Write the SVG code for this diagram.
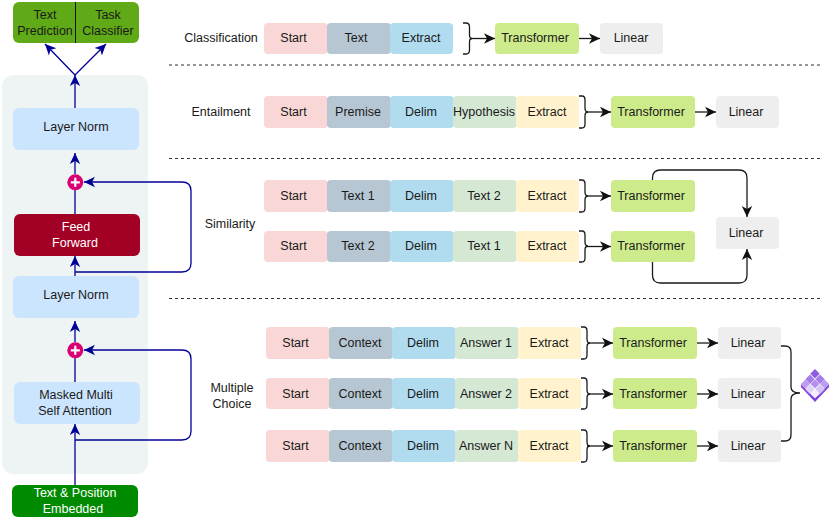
<svg xmlns="http://www.w3.org/2000/svg" width="831" height="520" viewBox="0 0 831 520">
<style>
text{font-family:"Liberation Sans",Arial,sans-serif;font-size:12.5px;fill:#1a1a1a;text-anchor:middle}
.w{fill:#fff}
rect{stroke:none}
.start{fill:#f8d7d6}.tok{fill:#b6c7d3}.delim{fill:#b1dcf0}.hyp{fill:#d5e8d4}.ext{fill:#fff2cc}.tf{fill:#cdeb8b}.lin{fill:#eeeeee}.ln{fill:#cce5ff}
.b{fill:none;stroke:#000099;stroke-width:1.3}
.k{fill:none;stroke:#1a1a1a;stroke-width:1.3}
.dash{fill:none;stroke:#333;stroke-width:1.2;stroke-dasharray:3 3}
</style>
<defs>
<marker id="ab" markerUnits="userSpaceOnUse" markerWidth="13" markerHeight="13" refX="11" refY="6" orient="auto"><path d="M11,6L0,0.800L3,6L0,11.200Z" fill="#000099"/></marker>
<marker id="ak" markerUnits="userSpaceOnUse" markerWidth="13" markerHeight="13" refX="11" refY="6" orient="auto"><path d="M11,6L0,0.800L3,6L0,11.200Z" fill="#111"/></marker>
</defs>
<rect id="panel" x="2" y="75" width="146" height="399" rx="11" fill="#eef4f3"/>
<g id="dividers">
<path class="dash" d="M169,65H821"/><path class="dash" d="M169,158.500H821"/><path class="dash" d="M169,298.500H821"/>
</g>
<g id="connectors">
<path class="b" marker-end="url(#ab)" d="M75,108V75"/>
<path class="b" marker-end="url(#ab)" d="M75,75L45,44"/>
<path class="b" marker-end="url(#ab)" d="M75,75L106,44"/>
<path class="b" d="M75,214V190"/>
<path class="b" marker-end="url(#ab)" d="M75,174V153"/>
<path class="b" marker-end="url(#ab)" d="M75,276V256"/>
<path class="b" marker-end="url(#ab)" d="M75,272H182Q191,272 191,263V191Q191,182 182,182H84"/>
<path class="b" d="M75,382V358"/>
<path class="b" marker-end="url(#ab)" d="M75,342V321"/>
<path class="b" marker-end="url(#ab)" d="M75,485V424"/>
<path class="b" marker-end="url(#ab)" d="M75,440H182Q191,440 191,431V359Q191,350 182,350H84"/>
<path class="k" d="M463,23H466Q469.500,23 469.500,27V35Q469.500,38.500 472,38.500Q469.500,38.500 469.500,42V50Q469.500,54 466,54H463"/>
<path class="k" marker-end="url(#ak)" d="M470,38.500H495"/>
<path class="k" marker-end="url(#ak)" d="M579,38.500H600"/>
<path class="k" d="M579,96H582Q585,96 585,100V108Q585,112 588,112Q585,112 585,116V124Q585,128 582,128H579"/>
<path class="k" marker-end="url(#ak)" d="M586,112H611"/>
<path class="k" marker-end="url(#ak)" d="M695,112H716"/>
<path class="k" d="M579,180H582Q585,180 585,184V192Q585,196 588,196Q585,196 585,200V208Q585,212 582,212H579"/>
<path class="k" marker-end="url(#ak)" d="M586,196H611"/>
<path class="k" d="M579,231H582Q585,231 585,235V242Q585,246 588,246Q585,246 585,250V258Q585,262 582,262H579"/>
<path class="k" marker-end="url(#ak)" d="M586,246.500H611"/>
<path class="k" marker-end="url(#ak)" d="M652.500,180V178Q652.500,170 660.500,170H739Q747,170 747,178V217"/>
<path class="k" marker-end="url(#ak)" d="M652.500,262V275Q652.500,283 660.500,283H739Q747,283 747,275V249"/>
<path class="k" d="M581,327H584Q587,327 587,331V339Q587,343 590,343Q587,343 587,347V355Q587,359 584,359H581"/>
<path class="k" marker-end="url(#ak)" d="M588,343H613"/>
<path class="k" marker-end="url(#ak)" d="M697,343H718"/>
<path class="k" d="M581,378H584Q587,378 587,382V390Q587,394 590,394Q587,394 587,398V405Q587,409 584,409H581"/>
<path class="k" marker-end="url(#ak)" d="M588,394H613"/>
<path class="k" marker-end="url(#ak)" d="M697,394H718"/>
<path class="k" d="M581,430H584Q587,430 587,434V442Q587,446 590,446Q587,446 587,450V458Q587,462 584,462H581"/>
<path class="k" marker-end="url(#ak)" d="M587,446H613"/>
<path class="k" marker-end="url(#ak)" d="M697,446H718"/>
<path class="k" d="M781,346H785Q791,346 791,352V387Q791,393 800,393Q791,393 791,399V435Q791,441 785,441H781"/>
</g>
<g id="output"><rect x="13" y="2" width="126" height="41" rx="6" fill="#60a917"/><path d="M75.500,2V43" stroke="#111" stroke-width="1"/><text x="45" y="19">Text</text><text x="45" y="35">Prediction</text><text x="108" y="19">Task</text><text x="108" y="35">Classifier</text></g>
<g id="norm2"><rect class="ln" x="13" y="108" width="126" height="42" rx="6"/><text x="76" y="131">Layer Norm</text></g>
<g id="add2"><circle cx="75.300" cy="182.300" r="8" fill="#d80073"/><path d="M70.800,182.300H79.800M75.300,177.800V186.800" stroke="#fff" stroke-width="2.200"/></g>
<g id="feed"><rect x="14" y="214" width="126" height="42" rx="6" fill="#a20025"/><text class="w" x="76" y="231">Feed</text><text class="w" x="75" y="247">Forward</text></g>
<g id="norm1"><rect class="ln" x="13" y="276" width="126" height="42" rx="6"/><text x="76" y="299">Layer Norm</text></g>
<g id="add1"><circle cx="75.300" cy="350.300" r="8" fill="#d80073"/><path d="M70.800,350.300H79.800M75.300,345.800V354.800" stroke="#fff" stroke-width="2.200"/></g>
<g id="attention"><rect class="ln" x="14" y="382" width="126" height="42" rx="6"/><text x="76" y="399">Masked Multi</text><text x="75" y="415">Self Attention</text></g>
<g id="embedded"><rect x="12" y="485" width="126" height="32" rx="6" fill="#008a00"/><text class="w" x="75" y="497">Text &amp; Position</text><text class="w" x="73" y="513">Embedded</text></g>
<g id="label-classification"><text x="221" y="42">Classification</text></g>
<g id="label-entailment"><text x="221" y="115.500">Entailment</text></g>
<g id="label-similarity"><text x="230" y="228">Similarity</text></g>
<g id="label-multiple"><text x="232" y="392">Multiple</text><text x="232" y="408">Choice</text></g>

<g id="c-start"><rect class="start" x="264" y="23" width="64" height="31" rx="4"/><text x="293.500" y="42">Start</text></g>
<g id="c-text"><rect class="tok" x="327" y="23" width="64" height="31" rx="4"/><text x="356" y="42">Text</text></g>
<g id="c-extract"><rect class="delim" x="390" y="23" width="63" height="31" rx="4"/><text x="421" y="42">Extract</text></g>
<g id="c-tf"><rect class="tf" x="495" y="23" width="84" height="31" rx="4"/><text x="535" y="42">Transformer</text></g>
<g id="c-lin"><rect class="lin" x="600" y="23" width="63" height="31" rx="4"/><text x="631" y="42">Linear</text></g>

<g id="e-start"><rect class="start" x="264" y="96" width="64" height="32" rx="4"/><text x="293.500" y="115.500">Start</text></g>
<g id="e-premise"><rect class="tok" x="327" y="96" width="64" height="32" rx="4"/><text x="358" y="115.500">Premise</text></g>
<g id="e-delim"><rect class="delim" x="390" y="96" width="64" height="32" rx="4"/><text x="421" y="115.500">Delim</text></g>
<g id="e-hyp"><rect class="hyp" x="453" y="96" width="64" height="32" rx="4"/><text x="484" y="115.500">Hypothesis</text></g>
<g id="e-extract"><rect class="ext" x="516" y="96" width="63" height="32" rx="4"/><text x="547" y="115.500">Extract</text></g>
<g id="e-tf"><rect class="tf" x="611" y="96" width="84" height="32" rx="4"/><text x="651" y="115.500">Transformer</text></g>
<g id="e-lin"><rect class="lin" x="716" y="96" width="63" height="32" rx="4"/><text x="746" y="115.500">Linear</text></g>

<g id="s1-start"><rect class="start" x="264" y="180" width="64" height="32" rx="4"/><text x="293.500" y="199.500">Start</text></g>
<g id="s1-a"><rect class="tok" x="327" y="180" width="64" height="32" rx="4"/><text x="358" y="199.500">Text 1</text></g>
<g id="s1-delim"><rect class="delim" x="390" y="180" width="64" height="32" rx="4"/><text x="421" y="199.500">Delim</text></g>
<g id="s1-b"><rect class="hyp" x="453" y="180" width="64" height="32" rx="4"/><text x="484" y="199.500">Text 2</text></g>
<g id="s1-extract"><rect class="ext" x="516" y="180" width="63" height="32" rx="4"/><text x="547" y="199.500">Extract</text></g>
<g id="s1-tf"><rect class="tf" x="611" y="180" width="84" height="32" rx="4"/><text x="651" y="199.500">Transformer</text></g>
<g id="s2-start"><rect class="start" x="264" y="231" width="64" height="31" rx="4"/><text x="293.500" y="250">Start</text></g>
<g id="s2-a"><rect class="tok" x="327" y="231" width="64" height="31" rx="4"/><text x="358" y="250">Text 2</text></g>
<g id="s2-delim"><rect class="delim" x="390" y="231" width="64" height="31" rx="4"/><text x="421" y="250">Delim</text></g>
<g id="s2-b"><rect class="hyp" x="453" y="231" width="64" height="31" rx="4"/><text x="484" y="250">Text 1</text></g>
<g id="s2-extract"><rect class="ext" x="516" y="231" width="63" height="31" rx="4"/><text x="547" y="250">Extract</text></g>
<g id="s2-tf"><rect class="tf" x="611" y="231" width="84" height="31" rx="4"/><text x="651" y="250">Transformer</text></g>
<g id="s-lin"><rect class="lin" x="716" y="217" width="63" height="32" rx="4"/><text x="746" y="236.500">Linear</text></g>

<g id="m1-start"><rect class="start" x="266" y="327" width="64" height="32" rx="4"/><text x="295.500" y="347">Start</text></g>
<g id="m1-ctx"><rect class="tok" x="329" y="327" width="64" height="32" rx="4"/><text x="360" y="347">Context</text></g>
<g id="m1-delim"><rect class="delim" x="392" y="327" width="64" height="32" rx="4"/><text x="423" y="347">Delim</text></g>
<g id="m1-ans"><rect class="hyp" x="455" y="327" width="64" height="32" rx="4"/><text x="486" y="347">Answer 1</text></g>
<g id="m1-extract"><rect class="ext" x="518" y="327" width="63" height="32" rx="4"/><text x="549" y="347">Extract</text></g>
<g id="m1-tf"><rect class="tf" x="613" y="327" width="84" height="32" rx="4"/><text x="653" y="347">Transformer</text></g>
<g id="m1-lin"><rect class="lin" x="718" y="327" width="63" height="32" rx="4"/><text x="748" y="347">Linear</text></g>

<g id="m2-start"><rect class="start" x="266" y="378" width="64" height="31" rx="4"/><text x="295.500" y="397.500">Start</text></g>
<g id="m2-ctx"><rect class="tok" x="329" y="378" width="64" height="31" rx="4"/><text x="360" y="397.500">Context</text></g>
<g id="m2-delim"><rect class="delim" x="392" y="378" width="64" height="31" rx="4"/><text x="423" y="397.500">Delim</text></g>
<g id="m2-ans"><rect class="hyp" x="455" y="378" width="64" height="31" rx="4"/><text x="486" y="397.500">Answer 2</text></g>
<g id="m2-extract"><rect class="ext" x="518" y="378" width="63" height="31" rx="4"/><text x="549" y="397.500">Extract</text></g>
<g id="m2-tf"><rect class="tf" x="613" y="378" width="84" height="31" rx="4"/><text x="653" y="397.500">Transformer</text></g>
<g id="m2-lin"><rect class="lin" x="718" y="378" width="63" height="31" rx="4"/><text x="748" y="397.500">Linear</text></g>

<g id="m3-start"><rect class="start" x="266" y="430" width="64" height="32" rx="4"/><text x="295.500" y="450">Start</text></g>
<g id="m3-ctx"><rect class="tok" x="329" y="430" width="64" height="32" rx="4"/><text x="360" y="450">Context</text></g>
<g id="m3-delim"><rect class="delim" x="392" y="430" width="64" height="32" rx="4"/><text x="423" y="450">Delim</text></g>
<g id="m3-ans"><rect class="hyp" x="455" y="430" width="64" height="32" rx="4"/><text x="486" y="450">Answer N</text></g>
<g id="m3-extract"><rect class="ext" x="518" y="430" width="63" height="32" rx="4"/><text x="549" y="450">Extract</text></g>
<g id="m3-tf"><rect class="tf" x="613" y="430" width="84" height="32" rx="4"/><text x="653" y="450">Transformer</text></g>
<g id="m3-lin"><rect class="lin" x="718" y="430" width="63" height="32" rx="4"/><text x="748" y="450">Linear</text></g>

<g id="ensemble-icon">
<path d="M801,384L815,398L829,384V387L815,402L801,387Z" fill="#8344dc"/>
<path d="M815,369L819.700,373.700L815,378.400L810.300,373.700Z" fill="#8f5be0"/>
<path d="M810,374.500L814.700,379.200L810,383.900L805.300,379.200Z" fill="#a67ee8"/>
<path d="M820,374.500L824.700,379.200L820,383.900L815.300,379.200Z" fill="#a67ee8"/>
<path d="M805.500,379.500L810,384L805.500,388.500L801,384Z" fill="#bc9ef0"/>
<path d="M815,379.500L819.500,384L815,388.500L810.500,384Z" fill="#b48fec"/>
<path d="M824.500,379.500L829,384L824.500,388.500L820,384Z" fill="#bc9ef0"/>
<path d="M810,384.500L814.700,389.200L810,393.900L805.300,389.200Z" fill="#e0d2f8"/>
<path d="M820,384.500L824.700,389.200L820,393.900L815.300,389.200Z" fill="#d6c4f6"/>
<path d="M815,389.500L819.500,394L815,398L810.500,394Z" fill="#f3edfd"/>
</g>
</svg>
